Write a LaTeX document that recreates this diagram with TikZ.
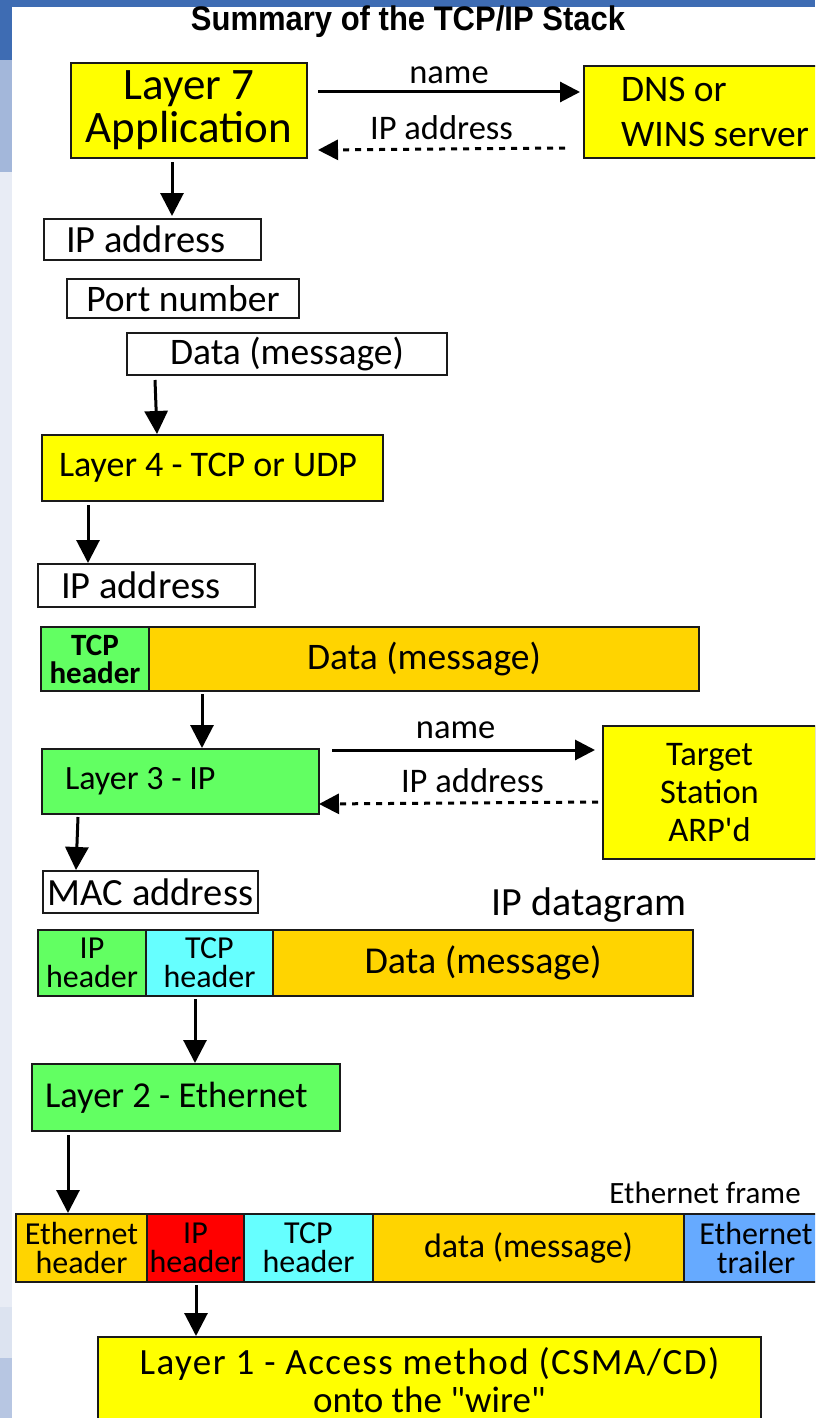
\documentclass[tikz,border=0pt]{standalone}
\usepackage{fontspec}
\setmainfont{Carlito}[Ligatures=TeXOff]
\newfontfamily\titlefont{Liberation Sans}
\usetikzlibrary{arrows.meta,calc}

\definecolor{barblue}{HTML}{3E6CB3}
\definecolor{stripA}{HTML}{A3B7DA}
\definecolor{stripB}{HTML}{E8ECF5}
\definecolor{stripC}{HTML}{DCE3F0}
\definecolor{stripD}{HTML}{B7C6E2}
\definecolor{lyellow}{HTML}{FFFF00}
\definecolor{lgreen}{HTML}{62FF62}
\definecolor{lorange}{HTML}{FFD400}
\definecolor{lcyan}{HTML}{66FFFF}
\definecolor{lred}{HTML}{FF0000}
\definecolor{lblue}{HTML}{66AAFF}
\definecolor{edge}{HTML}{1A1A1A}

\newcommand\fsz[2]{\fontsize{#1pt}{#2pt}\selectfont}

\tikzset{
  box/.style={draw=edge, line width=2pt, anchor=north west, inner sep=0pt,
              align=center, font=\fsz{37.5}{42}},
  lbox/.style 2 args={box, align=left, inner xsep=#1, text width=#2,
              execute at begin node={\spaceskip=0pt\relax\xspaceskip=0pt\relax}},
  seg/.style={draw=edge, line width=2pt, anchor=north west, inner sep=0pt,
              align=center, font=\fsz{32}{29}},
  arr/.style={line width=3pt, -{Triangle[length=23pt,width=23pt]}},
  harr/.style={line width=3pt, -{Triangle[length=20pt,width=20pt]}},
  darr/.style={harr, dash pattern=on 6pt off 6pt},
  lab/.style={inner sep=0pt, font=\fsz{34.5}{38}},
}

\begin{document}
\begin{tikzpicture}[x=1pt,y=-1pt]
\useasboundingbox (0,0) rectangle (815,1418);
\clip (0,0) rectangle (815,1418);

% slide background
\fill[white] (0,0) rectangle (815,1418);
\fill[stripB] (0,0) rectangle (12,1418);
\fill[barblue] (0,0) rectangle (815,7);
\fill[barblue] (0,0) rectangle (12,60);
\fill[stripA] (0,60) rectangle (12,172);
\fill[stripC] (0,1307) rectangle (12,1358);
\fill[stripD] (0,1358) rectangle (12,1418);

% title
\node[font=\titlefont\bfseries\fsz{31}{34}, yscale=1.1] (title) at (408,22) {Summary of the TCP/IP Stack};

% layer 7 and name resolution
\node[box, fill=lyellow, minimum width=236pt, minimum height=95pt, font=\fsz{45}{43}]
  (app) at (70,62) {Layer 7\\Application};
\node[lbox={37pt}{200pt}, fill=lyellow, minimum height=92pt, font=\fsz{37.5}{45}]
  (dns) at (583,65) {DNS or\\WINS server};

\node[lbox={22pt}{173pt}, fill=white, minimum height=41pt, font=\fsz{38.5}{42}] (ipa) at (43,218) {IP address};
\node[box, fill=white, minimum width=232pt, minimum height=39pt] (port) at (66,278) {Port number};
\node[box, fill=white, minimum width=320pt, minimum height=42pt] (dmsg) at (126,332) {Data (message)};

% layer 4
\node[lbox={17pt}{307pt}, fill=lyellow, minimum height=66pt, font=\fsz{36}{40}] (l4) at (41,434) {Layer 4 - TCP or UDP};
\node[lbox={23pt}{171pt}, fill=white, minimum height=43pt, font=\fsz{38.5}{42}] (ipb) at (37,563) {IP address};

% TCP segment
\node[seg, fill=lgreen, minimum width=108pt, minimum height=64pt, font=\bfseries\fsz{31}{28}]
  (tcp1) at (40,626) {TCP\\header};
\node[seg, fill=lorange, minimum width=550pt, minimum height=64pt, font=\fsz{37.5}{40}]
  (data1) at (148,626) {Data (message)};

% layer 3 and ARP
\node[lbox={23pt}{231pt}, fill=lgreen, minimum height=65pt, font=\fsz{34}{38}] (l3) at (41,748) {Layer 3 - IP};
\node[box, fill=lyellow, minimum width=213pt, minimum height=133pt, font=\fsz{34.5}{38}]
  (tgt) at (602,725) {Target\\Station\\ARP'd};
\node[box, fill=white, minimum width=215pt, minimum height=42pt, font=\fsz{38.5}{42}] (mac) at (42,870) {MAC address};

% IP datagram
\node[lab, font=\fsz{40}{42}] (dglab) at (589,905) {IP datagram};
\node[seg, fill=lgreen, minimum width=108pt, minimum height=66pt] (ip2) at (37,929) {IP\\header};
\node[seg, fill=lcyan, minimum width=127pt, minimum height=66pt] (tcp2) at (145,929) {TCP\\header};
\node[seg, fill=lorange, minimum width=420pt, minimum height=66pt, font=\fsz{38}{40}]
  (data2) at (272,929) {Data (message)};

% layer 2
\node[lbox={13pt}{282pt}, fill=lgreen, minimum height=67pt, font=\fsz{36.5}{40}] (l2) at (31,1063) {Layer 2 - Ethernet};

% Ethernet frame
\node[lab, font=\fsz{31}{34}] (frlab) at (705,1193) {Ethernet frame};
\node[seg, fill=lorange, minimum width=131pt, minimum height=68pt] (eth) at (15,1213) {Ethernet\\header};
\node[seg, fill=lred, minimum width=97pt, minimum height=68pt] (ip3) at (146,1213) {IP\\header};
\node[seg, fill=lcyan, minimum width=129pt, minimum height=68pt] (tcp3) at (243,1213) {TCP\\header};
\node[seg, fill=lorange, minimum width=311pt, minimum height=68pt, font=\fsz{34}{36}]
  (data3) at (372,1213) {data (message)};
\node[seg, fill=lblue, minimum width=144pt, minimum height=68pt] (trl) at (683,1213) {Ethernet\\trailer};

% layer 1 (runs past the lower edge)
\node[box, fill=lyellow, minimum width=663pt, minimum height=86pt, font=\fsz{37}{38}]
  (l1) at (97,1336) {\addfontfeatures{LetterSpace=4}Layer 1 - Access method (CSMA/CD)\\
                     onto the "wire"};
\draw[draw=edge, line width=2pt, fill=lyellow] (l1.south west) -- ([yshift=-20pt]l1.south west)
  -- ([yshift=-20pt]l1.south east) -- (l1.south east);

% requests and replies
\draw[harr] ([xshift=10pt,yshift=-30pt]app.north east)
  -- node[lab, above=7pt] {name} ([xshift=-3pt,yshift=-27pt]dns.north west);
\draw[darr] ([xshift=-18pt,yshift=-83pt]dns.north west)
  -- node[lab, above=8pt] {IP address} ([xshift=10pt,yshift=9pt]app.south east);
\draw[harr] ([xshift=12pt,yshift=-2pt]l3.north east)
  -- node[lab, above=10pt, pos=0.47] {name} ([xshift=-7pt,yshift=-25pt]tgt.north west);
\draw[darr] ([xshift=-4pt,yshift=-77pt]tgt.north west)
  -- node[lab, above=9pt, pos=0.45] {IP address} ([xshift=-1pt,yshift=11pt]l3.south east);

% down the stack
\draw[arr] ([xshift=102pt,yshift=-3pt]app.south west) -- ([xshift=129pt,yshift=2pt]ipa.north west);
\draw[arr] ([xshift=29pt,yshift=-4pt]dmsg.south west) -- ([xshift=116pt]l4.north west);
\draw[arr] ([xshift=47pt,yshift=-3pt]l4.south west) -- ([xshift=51pt]ipb.north west);
\draw[arr] ([xshift=54pt,yshift=-2pt]data1.south west) -- ([xshift=161pt]l3.north west);
\draw[arr] ([xshift=37pt,yshift=-2pt]l3.south west) -- ([xshift=34pt]mac.north west);
\draw[arr] ([xshift=50pt,yshift=-2pt]tcp2.south west) -- ([xshift=164pt]l2.north west);
\draw[arr] ([xshift=37pt,yshift=-3pt]l2.south west) -- ([xshift=53pt]eth.north west);
\draw[arr] ([xshift=50pt,yshift=-2pt]ip3.south west) -- ([xshift=99pt]l1.north west);
\end{tikzpicture}
\end{document}
